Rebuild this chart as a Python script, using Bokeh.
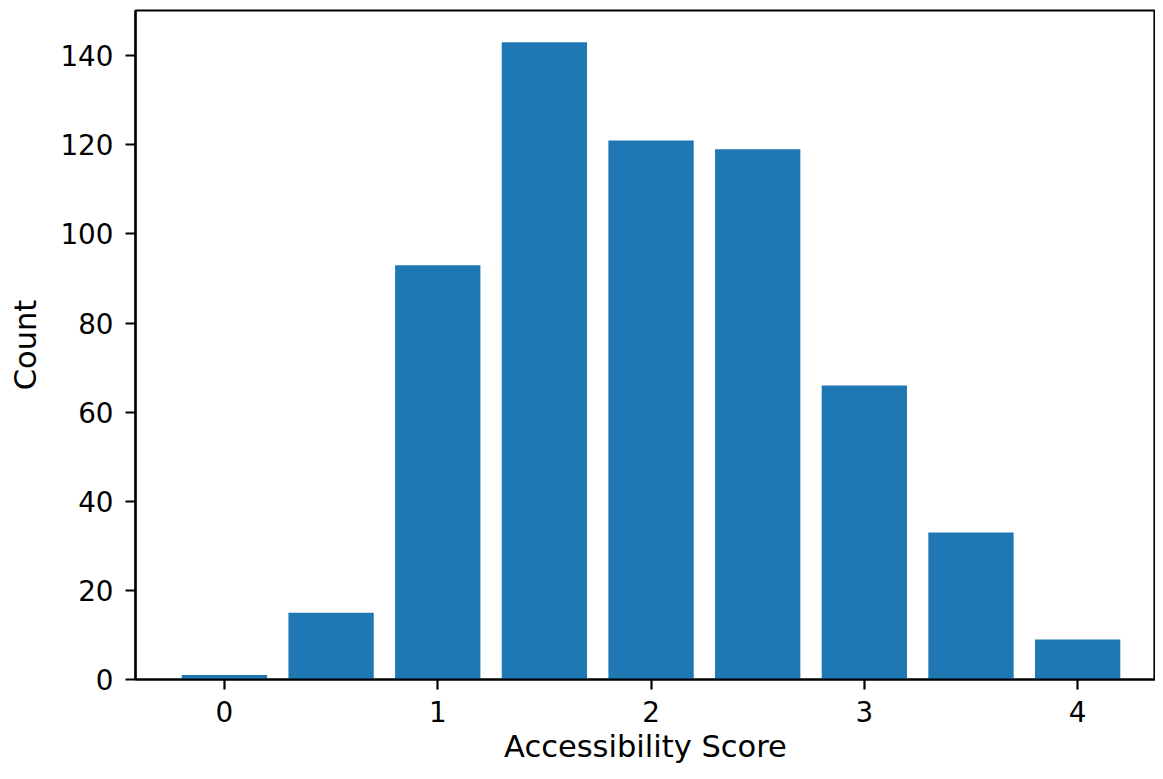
from bokeh.plotting import figure
from bokeh.models import Range1d, FixedTicker, ColumnDataSource
from bokeh.embed import file_html
from bokeh.resources import INLINE

# Data
scores = [0.0, 0.5, 1.0, 1.5, 2.0, 2.5, 3.0, 3.5, 4.0]
counts = [1, 15, 93, 143, 121, 119, 66, 33, 9]
x_ticks = [0, 1, 2, 3, 4]
y_ticks = [0, 20, 40, 60, 80, 100, 120, 140]

source = ColumnDataSource(dict(x=scores, top=counts))

FONT = "DejaVu Sans"
TICK_FS = "27.8px"
LABEL_FS = "30.5px"

p = figure(width=1155, height=771, output_backend="svg", toolbar_location=None,
           x_range=Range1d(-0.417, 4.365), y_range=Range1d(0, 150.15),
           min_border_left=135, min_border_right=0, min_border_top=10, min_border_bottom=92)

p.vbar(x="x", top="top", width=0.4, bottom=0, source=source,
       fill_color="#1f77b4", line_color=None)

p.grid.visible = False
p.outline_line_color = "black"
p.outline_line_width = 2.2
p.outline_line_alpha = 1.0

for ax in (p.xaxis[0], p.yaxis[0]):
    ax.axis_line_color = "black"
    ax.axis_line_width = 2.2
    ax.major_tick_line_color = "black"
    ax.major_tick_line_width = 2.2
    ax.major_tick_out = 10
    ax.major_tick_in = 0
    ax.minor_tick_line_color = None
    ax.major_label_text_font = FONT
    ax.major_label_text_font_size = TICK_FS
    ax.major_label_text_color = "black"
    ax.axis_label_text_font = FONT
    ax.axis_label_text_font_size = LABEL_FS
    ax.axis_label_text_font_style = "normal"
    ax.axis_label_text_color = "black"

p.xaxis.ticker = FixedTicker(ticks=x_ticks)
p.yaxis.ticker = FixedTicker(ticks=y_ticks)
p.xaxis.axis_label = "Accessibility Score"
p.yaxis.axis_label = "Count"
p.xaxis.major_label_standoff = 11
p.yaxis.major_label_standoff = 12
p.xaxis.axis_label_standoff = 4
p.yaxis.axis_label_standoff = 14

open("out.html", "w").write(file_html(p, INLINE))
